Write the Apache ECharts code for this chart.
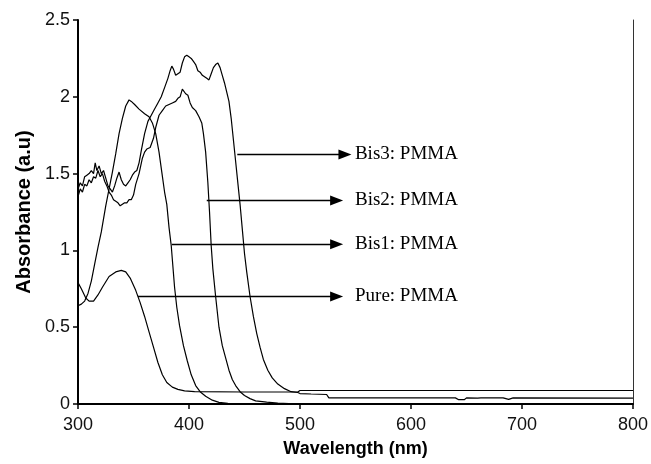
<!DOCTYPE html>
<html>
<head>
<meta charset="utf-8">
<script src="https://cdn.jsdelivr.net/npm/echarts@6/dist/echarts.min.js"></script>
<style>html,body{margin:0;padding:0;background:#fff}#c{width:651px;height:464px}</style>
</head>
<body>
<div id="c"></div>
<script>
// Wavelength (nm), Absorbance (a.u)
var purePMMA = [[300,0.79],[303,0.75],[307,0.69],[310,0.67],[314,0.67],[318,0.71],[322,0.76],[328,0.83],[334,0.86],[339,0.87],[343,0.86],[347,0.82],[352,0.74],[356,0.66],[360,0.57],[364,0.47],[368,0.37],[372,0.27],[376,0.19],[380,0.14],[385,0.11],[390,0.095],[396,0.085],[405,0.08],[450,0.078],[498,0.078],[500,0.088],[800,0.088]];
var bis1PMMA = [[300,0.64],[303,0.65],[306,0.67],[309,0.72],[312,0.80],[315,0.91],[318,1.02],[321,1.12],[325,1.29],[328,1.40],[331,1.51],[334,1.63],[337,1.76],[340,1.86],[343,1.94],[346,1.98],[348,1.97],[351,1.95],[355,1.92],[360,1.89],[364,1.87],[367,1.83],[370,1.76],[373,1.64],[375.5,1.51],[378,1.38],[380,1.30],[382,1.15],[384,1.03],[387,0.76],[389,0.63],[391.5,0.51],[395,0.38],[398.5,0.28],[402,0.19],[406,0.12],[410,0.08],[415,0.05],[421,0.025],[427,0.011],[435,0.005],[445,0.002],[490,0.002]];
var bis2PMMA = [[300,1.35],[302,1.40],[304,1.38],[306,1.43],[308,1.42],[310,1.46],[312,1.44],[314,1.48],[316,1.47],[318,1.52],[320,1.48],[322,1.50],[324,1.45],[326,1.42],[328,1.38],[330,1.36],[332,1.33],[334,1.32],[336,1.31],[338,1.29],[340,1.30],[342,1.31],[344,1.31],[346,1.33],[348,1.33],[350,1.36],[352,1.43],[355,1.50],[358,1.60],[360,1.64],[362,1.66],[365,1.67],[368,1.73],[370,1.80],[373,1.88],[376,1.91],[379,1.94],[382,1.95],[385,1.96],[388,1.97],[390,1.99],[392,2.00],[394,2.05],[395,2.04],[397,2.02],[399,2.01],[401,1.96],[403,1.93],[406,1.91],[409,1.87],[411.5,1.83],[413,1.76],[415,1.64],[417,1.44],[418.5,1.25],[420,1.03],[421.5,0.88],[424,0.70],[427,0.50],[430,0.38],[433,0.30],[436,0.22],[439,0.16],[442,0.12],[446,0.08],[450,0.055],[455,0.035],[460,0.02],[470,0.012],[480,0.006],[490,0.003]];
var bis3PMMA = [[300,1.40],[302,1.44],[304,1.42],[306,1.48],[308,1.49],[310,1.50],[312,1.52],[314,1.50],[315.5,1.57],[317,1.52],[319,1.55],[321,1.50],[323,1.52],[325,1.47],[327,1.42],[329,1.40],[331,1.38],[333,1.42],[335,1.47],[337,1.51],[339,1.46],[341,1.43],[343,1.42],[345,1.44],[347,1.46],[349,1.49],[351,1.51],[353,1.52],[355,1.57],[357,1.65],[360,1.76],[363,1.84],[366,1.88],[369,1.92],[372,1.96],[375,2.00],[378,2.06],[381,2.12],[383,2.17],[384.5,2.20],[386,2.18],[388,2.14],[390,2.15],[392,2.16],[394,2.22],[396,2.26],[398,2.27],[400,2.26],[402,2.25],[404,2.23],[406,2.21],[408,2.17],[410,2.16],[412,2.14],[414,2.13],[416,2.12],[418,2.11],[420,2.15],[422,2.19],[424,2.21],[426,2.22],[428,2.19],[430,2.14],[432,2.09],[434,2.03],[436,1.97],[438,1.86],[440,1.72],[442,1.58],[444,1.44],[446,1.30],[448,1.14],[450,0.98],[452,0.86],[455,0.70],[458,0.57],[461,0.46],[464,0.37],[467,0.29],[471,0.22],[475,0.17],[480,0.13],[486,0.10],[492,0.08],[498,0.075],[500,0.068],[510,0.065],[524,0.062],[526,0.04],[640,0.04],[643,0.028],[648,0.028],[650,0.04],[660,0.038],[661,0.03],[663,0.04],[680,0.04],[681,0.03],[683,0.04],[688,0.03],[692,0.04],[800,0.038]];

var seriesNames = ['Pure: PMMA','Bis1: PMMA','Bis2: PMMA','Bis3: PMMA'];
var seriesData = [purePMMA, bis1PMMA, bis2PMMA, bis3PMMA];
// annotation arrows: [startWavelength, endWavelength, absorbance]
var arrowStart = [354, 384.5, 416, 443.5];
var arrowEnd = [533, 533, 533, 540.5];
var arrowLevel = [0.70, 1.04, 1.325, 1.625];

var xTicks = {min:300, max:800, interval:100};
var yTicks = {min:0, max:2.5, interval:0.5};

var chart = echarts.init(document.getElementById('c'), null, {renderer:'canvas'});
var series = seriesData.map(function(d, i){
  return {
    name: seriesNames[i], type:'line', data:d, showSymbol:false, symbol:'none',
    lineStyle:{color:'#000', width:1.2}, z:2, animation:false, silent:true,
    markLine:{
      silent:true, animation:false,
      symbol:['none','triangle'], symbolSize:[10,13],
      lineStyle:{color:'#000', width:1.3, type:'solid'},
      label:{show:true, position:'end', distance:[10 + (arrowEnd[3]-arrowEnd[i])*1.115, 1], formatter: seriesNames[i],
        fontFamily:'Liberation Serif', fontSize:19, color:'#000'},
      data:[[{coord:[arrowStart[i], arrowLevel[i]]},{coord:[arrowEnd[i], arrowLevel[i]]}]]
    }
  };
});

chart.setOption({
  animation:false,
  backgroundColor:'#fff',
  grid:{left:78, right:15, top:20, bottom:60, containLabel:false},
  xAxis:{type:'value', min:xTicks.min, max:xTicks.max, interval:xTicks.interval,
    name:'Wavelength (nm)', nameLocation:'middle', nameGap:36,
    nameTextStyle:{fontFamily:'Liberation Sans', fontWeight:'bold', fontSize:18, color:'#000'},
    axisLine:{lineStyle:{color:'#000', width:2}},
    axisTick:{show:true, inside:false, length:5, lineStyle:{color:'#000', width:1.5}},
    axisLabel:{fontFamily:'Liberation Sans', fontSize:18, color:'#111', margin:12},
    splitLine:{show:false}},
  yAxis:[{type:'value', min:yTicks.min, max:yTicks.max, interval:yTicks.interval,
    name:'Absorbance (a.u)', nameLocation:'middle', nameGap:41, nameRotate:90,
    nameTextStyle:{fontFamily:'Liberation Sans', fontWeight:'bold', fontSize:20, color:'#000'},
    axisLine:{show:true, lineStyle:{color:'#000', width:2}},
    axisTick:{show:true, inside:false, length:5, lineStyle:{color:'#000', width:1.5}},
    axisLabel:{fontFamily:'Liberation Sans', fontSize:18, color:'#111', margin:8},
    splitLine:{show:false}},
   {type:'value', position:'right', min:yTicks.min, max:yTicks.max, interval:yTicks.interval,
    axisLine:{show:true, lineStyle:{color:'#333', width:1}}, axisTick:{show:false}, axisLabel:{show:false}, splitLine:{show:false}}],
  series: series
});
</script>
</body>
</html>
